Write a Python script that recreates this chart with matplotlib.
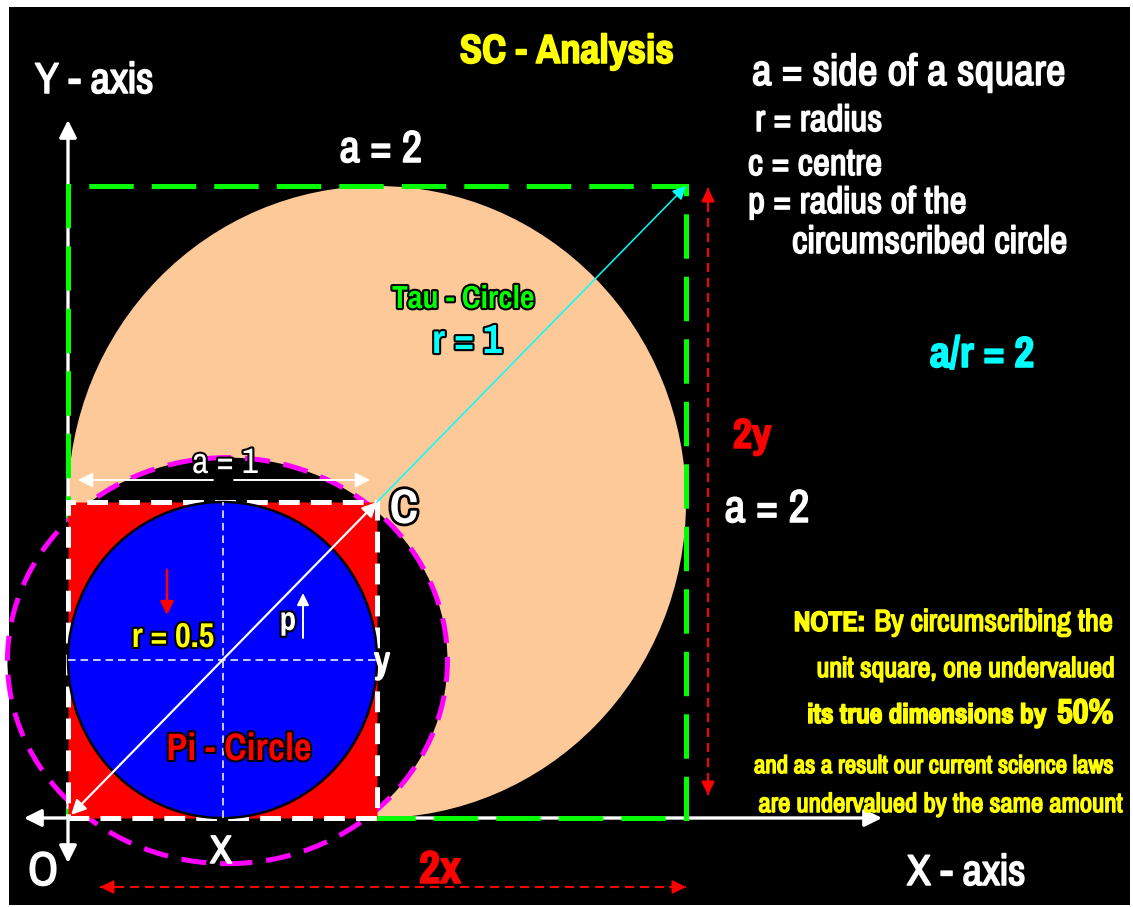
"""
SC - Analysis diagram: unit square, Pi-circle, Tau-circle.
"""

import matplotlib
matplotlib.use('Agg')
import matplotlib.pyplot as plt
import matplotlib.patheffects as pe
from matplotlib.patches import Rectangle, Ellipse


plt.rcParams['font.family'] = ['Pragati Narrow', 'PT Sans Narrow', 'DejaVu Sans']
plt.rcParams['lines.scale_dashes'] = False

# colour constants
PEACH = '#fdc998'
GREEN = '#00ff00'
CYAN = '#00ffff'
MAGENTA = '#ff00ff'
YELLOW = '#ffff00'

# geometry (units): small square side, big square side, radii
a_small = 1.0
a_big = 2.0
r_pi = 0.5
r_tau = 1.0
centre_c = (1.0, 1.0)
# circumscribed circle (slightly squashed)
p_centre = (0.516, 0.498)
p_width = 1.424
p_height = 1.285

# pixel frame of the picture: origin O and pixels per unit
X0, Y0 = 68, 818
UX, UY = 309, 316


def ux(px):
    return (px - X0) / UX


def uy(py):
    return (Y0 - py) / UY


fig = plt.figure(figsize=(11.33, 9.07), dpi=100, facecolor='white')
ax = fig.add_axes([0, 0, 1, 1])
ax.set_xlim(ux(0), ux(1133))
ax.set_ylim(uy(907), uy(0))
ax.axis('off')

# black board
ax.add_patch(Rectangle((9 / 1133, 2 / 907), 1121 / 1133, 898 / 907,
                       transform=ax.transAxes, fc='black', ec='none', zorder=0))

# Tau circle
ax.add_patch(Ellipse(centre_c, 2 * r_tau, 2 * r_tau, fc=PEACH, ec='none', zorder=1))

# axes arrows
ax.annotate('', xy=(ux(24), 0), xytext=(ux(882), 0),
            arrowprops=dict(arrowstyle='<|-|>', color='white', lw=2.4,
                            mutation_scale=26, shrinkA=0, shrinkB=0), zorder=2)
ax.annotate('', xy=(0, uy(120)), xytext=(0, uy(863)),
            arrowprops=dict(arrowstyle='<|-|>', color='white', lw=2.4,
                            mutation_scale=26, shrinkA=0, shrinkB=0), zorder=2)

# big square a = 2
ax.add_patch(Rectangle((0, 0), a_big, a_big, fill=False, ec=GREEN, lw=3.6,
                       linestyle=(7, (32, 13)), zorder=3))

# circumscribed circle, black inside
ax.add_patch(Ellipse(p_centre, p_width, p_height, fc='black', ec=MAGENTA, lw=3.6,
                     linestyle=(0, (18, 10)), zorder=4))

# unit square
ax.add_patch(Rectangle((0, 0), a_small, a_small, fc='red', ec='white', lw=3.6,
                       linestyle=(0, (15, 8)), zorder=5))

# Pi circle
ax.add_patch(Ellipse((0.5, 0.5), 2 * r_pi, 2 * r_pi, fc='#0000ff', ec='black',
                     lw=1.8, zorder=6))

# cross-hair through the Pi circle centre
ax.plot([0.5, 0.5], [0, a_small], color='white', lw=1.1, dashes=(5.5, 3.5), zorder=7)
ax.plot([0, a_small], [0.5, 0.5], color='white', lw=1.1, dashes=(5.5, 3.5), zorder=7)

# diagonal O <-> C and C -> big corner
ax.annotate('', xy=(0.01, 0.01), xytext=centre_c,
            arrowprops=dict(arrowstyle='<|-|>', color='white', lw=1.6,
                            mutation_scale=22, shrinkA=0, shrinkB=0), zorder=8)
ax.annotate('', xy=(a_big, a_big), xytext=centre_c,
            arrowprops=dict(arrowstyle='-|>', color=CYAN, lw=1.1,
                            mutation_scale=20, shrinkA=0, shrinkB=0), zorder=8)

# a = 1 dimension arrow
y_a1 = uy(480)
for x_from, x_to in [(ux(213), ux(78)), (ux(234), ux(370))]:
    ax.annotate('', xy=(x_to, y_a1), xytext=(x_from, y_a1),
                arrowprops=dict(arrowstyle='-|>', color='white', lw=1.4,
                                mutation_scale=22, shrinkA=0, shrinkB=0), zorder=8)


def dashed_arrow(p0, p1, color):
    ax.plot([p0[0], p1[0]], [p0[1], p1[1]], color=color, lw=1.5,
            dashes=(6.5, 4.3), zorder=8)
    for tip, other in [(p0, p1), (p1, p0)]:
        dx = (other[0] - tip[0])
        dy = (other[1] - tip[1])
        n = (dx ** 2 * UX ** 2 + dy ** 2 * UY ** 2) ** 0.5
        base = (tip[0] + dx * 16 / n, tip[1] + dy * 16 / n)
        ax.annotate('', xy=tip, xytext=base,
                    arrowprops=dict(arrowstyle='-|>', color=color, lw=1.5,
                                    mutation_scale=20, shrinkA=0, shrinkB=0),
                    zorder=8)


# 2x and 2y dimension arrows
dashed_arrow((ux(100), uy(887)), (ux(686), uy(887)), 'red')
dashed_arrow((ux(708), uy(188)), (ux(708), uy(795)), 'red')

# small arrows
ax.annotate('', xy=(ux(167), uy(615)), xytext=(ux(167), uy(570)),
            arrowprops=dict(arrowstyle='-|>', color='red', lw=1.8,
                            mutation_scale=20, shrinkA=0, shrinkB=0), zorder=8)
ax.annotate('', xy=(ux(303), uy(593)), xytext=(ux(303), uy(638)),
            arrowprops=dict(arrowstyle='-|>', color='white', lw=1.4,
                            mutation_scale=18, shrinkA=0, shrinkB=0), zorder=8)

outline = [pe.withStroke(linewidth=3, foreground='black')]


def label(px, py, s, color='white', size=30, ha='center', weight='normal', fx=None):
    if fx is None:
        # a thin stroke of the same colour makes the narrow font a bit heavier
        fx = [pe.withStroke(linewidth=1.1, foreground=color)]
    return ax.text(ux(px), uy(py), s, color=color, fontsize=size, ha=ha,
                   va='baseline', fontweight=weight, path_effects=fx, zorder=9)


# titles and legend text
label(567, 63, 'SC - Analysis', YELLOW, 32, weight='bold')
label(35, 93, 'Y - axis', 'white', 34, ha='left')
label(907, 885, 'X - axis', 'white', 34, ha='left')
label(381, 162, 'a = 2', 'white', 35)
label(752, 85, 'a = side of a square', 'white', 34, ha='left')
label(755, 131, 'r = radius', 'white', 29, ha='left')
label(748, 175, 'c = centre', 'white', 29, ha='left')
label(748, 213, 'p = radius of the', 'white', 29, ha='left')
label(792, 253, 'circumscribed circle', 'white', 30, ha='left')

# labels inside the drawing
label(463, 308, 'Tau - Circle', GREEN, 25, weight='bold', fx=outline)
label(467, 353, 'r = 1', CYAN, 32, weight='bold', fx=outline)
label(982, 367, 'a/r = 2', CYAN, 34, weight='bold')
label(752, 448, '2y', 'red', 33, weight='bold')
label(767, 522, 'a = 2', 'white', 36)
label(404, 523, 'C', 'white', 38, weight='bold', fx=[pe.withStroke(linewidth=4, foreground='black')])
label(225, 473, 'a = 1', 'white', 28, fx=outline)
label(173, 647, 'r = 0.5', YELLOW, 27, weight='bold', fx=outline)
label(288, 630, 'p', 'white', 26, weight='bold', fx=outline)
label(382, 673, 'y', 'white', 30)
label(239, 760, 'Pi - Circle', 'red', 30, weight='bold', fx=outline)
label(221, 863, 'X', 'white', 31)
label(43, 885, 'O', 'white', 37)
label(440, 883, '2x', 'red', 36, weight='bold')

# note
rest = label(1113, 631, 'By circumscribing the', YELLOW, 24, ha='right')
bb = rest.get_window_extent(fig.canvas.get_renderer())
label(bb.x0 - 9, 631, 'NOTE:', YELLOW, 22, ha='right', weight='bold')
label(1113, 677, 'unit square, one undervalued', YELLOW, 22, ha='right')
label(1046, 723, 'its true dimensions by', YELLOW, 21.5, ha='right', weight='bold')
label(1057, 723, '50%', YELLOW, 27, ha='left', weight='bold')
label(1114, 773, 'and as a result our current science laws', YELLOW, 19.5, ha='right')
label(1123, 812, 'are undervalued by the same amount', YELLOW, 21, ha='right')

plt.savefig('out.png', dpi=100, facecolor='white')
